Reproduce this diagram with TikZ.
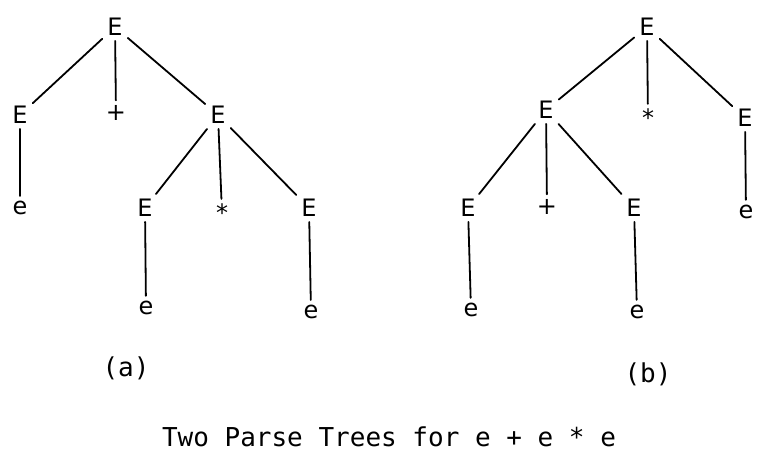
\documentclass[tikz,border=0pt]{standalone}
\usepackage{fontspec}
\setmainfont{DejaVu Sans}
\newfontfamily\capfont{DejaVu Sans Mono}
\usetikzlibrary{positioning}

\begin{document}
\begin{tikzpicture}[x=1pt,y=-1pt,
      sym/.style={inner sep=5pt, font=\fontsize{24}{26}\selectfont},
      lbl/.style={font=\capfont\fontsize{26}{28}\selectfont},
      edge/.style={line width=1.8pt, line cap=round}]
      \useasboundingbox (0,0) rectangle (766,462);

      % Tree (a): E -> E + E, right E -> E * E
      \node[sym] (a0) at (115,27) {E};
      \node[sym] (a1) at (20,115) {E};
      \node[sym] (a2) at (116,113) {+};
      \node[sym] (a3) at (218,115) {E};
      \node[sym] (a4) at (20,208) {e};
      \node[sym] (a5) at (145,208) {E};
      \node[sym] (a6) at (222,213) {*};
      \node[sym] (a7) at (309,208) {E};
      \node[sym] (a8) at (146,308) {e};
      \node[sym] (a9) at (311,312) {e};
      \foreach \p/\c in {a0/a1,a0/a2,a0/a3,a1/a4,a3/a5,a3/a6,a3/a7,a5/a8,a7/a9}
        \draw[edge] (\p) -- (\c);
      \node[lbl] (capa) at (126,368) {(a)};

      % Tree (b): E -> E * E, left E -> E + E
      \node[sym] (b0) at (647,27) {E};
      \node[sym] (b1) at (546,110) {E};
      \node[sym] (b2) at (648,118) {*};
      \node[sym] (b3) at (745,118) {E};
      \node[sym] (b4) at (468,208) {E};
      \node[sym] (b5) at (547,207) {+};
      \node[sym] (b6) at (634,208) {E};
      \node[sym] (b7) at (746,212) {e};
      \node[sym] (b8) at (471,310) {e};
      \node[sym] (b9) at (637,312) {e};
      \foreach \p/\c in {b0/b1,b0/b2,b0/b3,b1/b4,b1/b5,b1/b6,b3/b7,b4/b8,b6/b9}
        \draw[edge] (\p) -- (\c);
      \node[lbl] (capb) at (648,374) {(b)};

      \node[lbl] (title) at (389,437) {Two Parse Trees for e + e * e};
\end{tikzpicture}
\end{document}
